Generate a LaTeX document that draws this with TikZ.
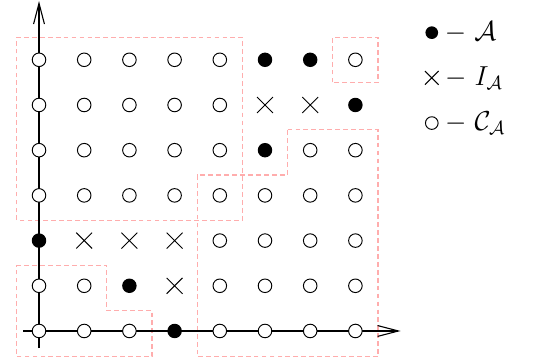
\documentclass[tikz,border=0pt]{standalone}
\usetikzlibrary{arrows.meta,positioning,shapes.misc}
\begin{document}
\begin{tikzpicture}[
    font=\large,
    % Point styles
    cmpl/.style={circle, draw, fill=white, line width=0.6pt, minimum size=0.3cm, inner sep=0pt},
    elem/.style={circle, fill=black, minimum size=0.32cm, inner sep=0pt},
    ideal/.style={cross out, draw, line width=0.6pt, minimum size=0.33cm, inner sep=0pt},
    % Regions and axes
    region/.style={draw=red!32, dash pattern=on 3pt off 2pt, line width=0.8pt},
    axis/.style={-{Straight Barb[length=4.6mm,width=2.4mm]}, line width=0.7pt},
    legend/.style={inner sep=1pt, right=0.1cm of #1, font=\LARGE},
    key/.style={minimum size=0.28cm},
]
    \useasboundingbox (-0.863,-0.597) rectangle (11.018,7.323);

    % Dashed regions
    \draw[region] (-0.5,2.45) rectangle (4.5,6.5);
    \draw[region] (6.5,5.5) rectangle (7.5,6.5);
    \draw[region] (5.5,4.45) -- (7.5,4.45) -- (7.5,-0.57) -- (3.5,-0.57)
        -- (3.5,3.45) -- (5.5,3.45) -- cycle;
    \draw[region] (-0.5,1.45) -- (1.5,1.45) -- (1.5,0.45) -- (2.5,0.45)
        -- (2.5,-0.57) -- (-0.5,-0.57) -- cycle;

    % Axes
    \coordinate (xstart) at (-0.35,0);
    \coordinate (xend) at (8,0);
    \coordinate (ystart) at (0,-0.38);
    \coordinate (yend) at (0,7.3);
    \draw[axis] (xstart) -- (xend);
    \draw[axis] (ystart) -- (yend);

    % Lattice points, row by row
    \foreach \row/\marks in {
        6/{cmpl,cmpl,cmpl,cmpl,cmpl,elem,elem,cmpl},
        5/{cmpl,cmpl,cmpl,cmpl,cmpl,ideal,ideal,elem},
        4/{cmpl,cmpl,cmpl,cmpl,cmpl,elem,cmpl,cmpl},
        3/{cmpl,cmpl,cmpl,cmpl,cmpl,cmpl,cmpl,cmpl},
        2/{elem,ideal,ideal,ideal,cmpl,cmpl,cmpl,cmpl},
        1/{cmpl,cmpl,elem,ideal,cmpl,cmpl,cmpl,cmpl},
        0/{cmpl,cmpl,cmpl,elem,cmpl,cmpl,cmpl,cmpl}}
      \foreach \m [count=\c from 0] in \marks
        \node[\m] (p-\c-\row) at (\c,\row) {};

    % Legend
    \node[elem, key] (keyA) at (8.69,6.6) {};
    \node[ideal, key] (keyI) at (8.69,5.6) {};
    \node[cmpl, key] (keyC) at (8.69,4.6) {};
    \node[legend=keyA] (txtA) {$-\ \mathcal{A}$};
    \node[legend=keyI] (txtI) {$-\ I_{\mathcal{A}}$};
    \node[legend=keyC] (txtC) {$-\ \mathcal{C}_{\mathcal{A}}$};

\end{tikzpicture}
\end{document}
